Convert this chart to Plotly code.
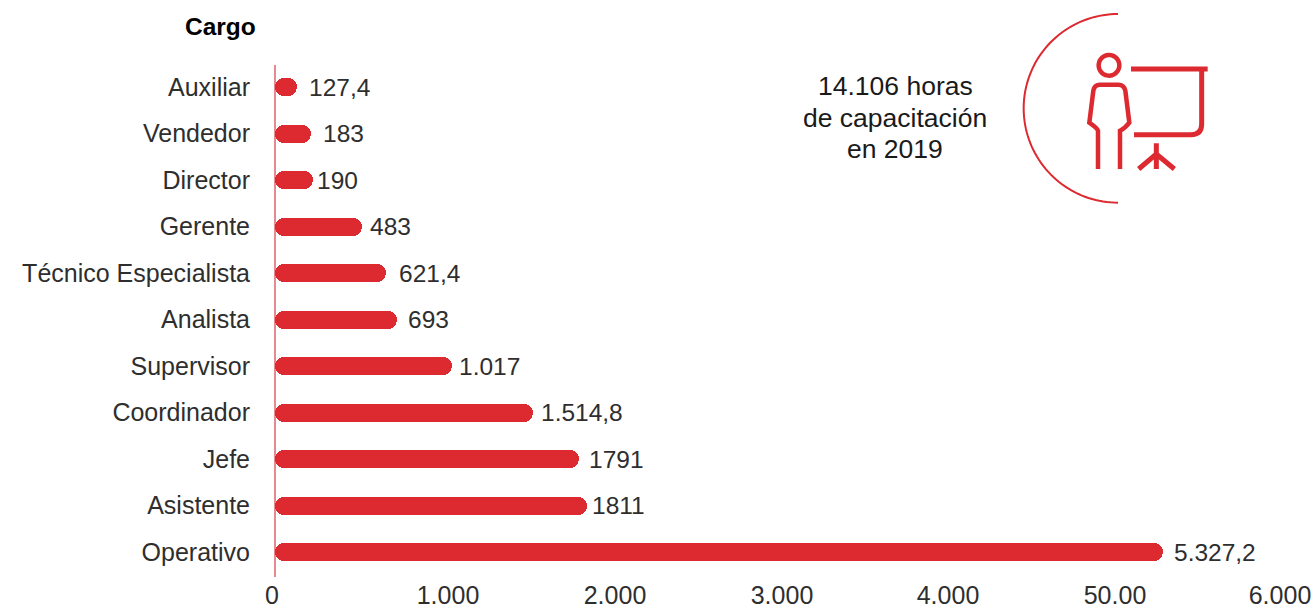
import numpy as np
import plotly.graph_objects as go

# ---- data, bottom to top
categories = ["Operativo", "Asistente", "Jefe", "Coordinador", "Supervisor", "Analista",
              "Técnico Especialista", "Gerente", "Director", "Vendedor", "Auxiliar"]
bar_lengths = [5328, 1873, 1824, 1548, 1062, 732, 666, 522, 228, 216, 132]
value_labels = ["5.327,2", "1811", "1791", "1.514,8", "1.017", "693", "621,4", "483", "190", "183", "127,4"]
label_gaps = [9, 3, 8, 6, 5, 9, 11, 6, 2, 10, 10]
tick_positions = [-18, 1038, 2040, 3042, 4038, 5040, 6030]
tick_labels = ["0", "1.000", "2.000", "3.000", "4.000", "50.00", "6.000"]

RED = "#dc2a30"
TEXT = "#2e2e2e"
FONT = "Liberation Sans"
W, H = 1316, 609
L, R, T, B = 270, 31, 65, 32
PW, PH = W - L - R, H - T - B
BAR_H = 18
BASE = 1


def px(x):
    return (x - L) / PW


def py(y):
    return 1 - (y - T) / PH


fig = go.Figure()
fig.add_trace(go.Bar(
    y=categories, x=[v - BASE for v in bar_lengths], base=BASE, orientation="h",
    marker=dict(color=RED, cornerradius="50%", line_width=0),
    width=BAR_H / 46.5, hoverinfo="skip", showlegend=False))

annotations = []
for c, v, t, g in zip(categories, bar_lengths, value_labels, label_gaps):
    annotations.append(dict(x=v, y=c, text=t, xanchor="left", yanchor="middle", showarrow=False,
                            xshift=g, font=dict(family=FONT, size=24.5, color=TEXT)))
for text, x, y, weight, size in [("Cargo", 220, 26, "bold", 24.5), ("14.106 horas", 895, 86, "normal", 26.5),
                                 ("de capacitación", 895, 118, "normal", 26.5),
                                 ("en 2019", 895, 149, "normal", 26.5)]:
    annotations.append(dict(x=px(x), y=py(y), xref="paper", yref="paper", text=text, showarrow=False,
                            xanchor="center", yanchor="middle",
                            font=dict(family=FONT, size=size, color="#000000" if weight == "bold" else "#1a1a1a",
                                      weight=weight)))


# ---- decorative icon, drawn in page pixels
def pt(x, y):
    return f"{px(1000 + x / 3):.5f},{py(y / 3):.5f}"


def icon(path, width):
    return dict(type="path", xref="paper", yref="paper", path=path, layer="above",
                line=dict(color=RED, width=width), fillcolor="rgba(0,0,0,0)")


theta = np.linspace(np.pi / 2, 3 * np.pi / 2, 80)
arc = [(354 + 283 * np.cos(a), 325 - 283 * np.sin(a)) for a in theta]
arc_path = "M" + " L".join(pt(x, y) for x, y in arc)
head = [(327 + 31 * np.cos(a), 196 + 31 * np.sin(a)) for a in np.linspace(0, 2 * np.pi, 50)]
head_path = "M" + " L".join(pt(x, y) for x, y in head) + " Z"
body_path = (f"M{pt(294, 507)} L{pt(294, 392)} Q{pt(292, 385)} {pt(268, 368)} L{pt(280, 272)} "
             f"Q{pt(283, 254)} {pt(300, 254)} L{pt(355, 254)} Q{pt(372, 254)} {pt(376, 272)} "
             f"L{pt(388, 368)} Q{pt(375, 385)} {pt(360, 392)} L{pt(360, 507)}")
board_path = (f"M{pt(393, 207)} L{pt(623, 207)} M{pt(605, 207)} L{pt(605, 372)} "
              f"Q{pt(605, 404)} {pt(573, 404)} L{pt(402, 404)}")
stand_path = f"M{pt(469, 430)} L{pt(469, 507)} M{pt(416, 507)} L{pt(469, 462)} L{pt(523, 507)}"
shapes = [icon(arc_path, 2), icon(head_path, 4.5), icon(body_path, 4.5),
          icon(board_path, 5), icon(stand_path, 5)]

fig.update_layout(
    width=W, height=H, autosize=False, margin=dict(l=L, r=R, t=T, b=B, autoexpand=False),
    paper_bgcolor="white", plot_bgcolor="white", bargap=0,
    annotations=annotations, shapes=shapes,
    xaxis=dict(range=[-30, 6060], tickmode="array", tickvals=tick_positions, ticktext=tick_labels,
               showgrid=False, zeroline=True, zerolinecolor="#e58a8f", zerolinewidth=1.5,
               showline=False, automargin=False, ticks="", ticklabelstandoff=1,
               tickfont=dict(family=FONT, size=25, color=TEXT)),
    yaxis=dict(type="category", categoryorder="array", categoryarray=categories,
               range=[-0.536, 10.475], showgrid=False, zeroline=False, showline=False, automargin=False,
               ticks="outside", ticklen=14, tickcolor="rgba(0,0,0,0)",
               tickfont=dict(family=FONT, size=25, color=TEXT)),
)

fig.write_html("out.html", config=dict(displayModeBar=False),
               post_script="document.body.style.margin='0';document.body.style.overflow='hidden';")
